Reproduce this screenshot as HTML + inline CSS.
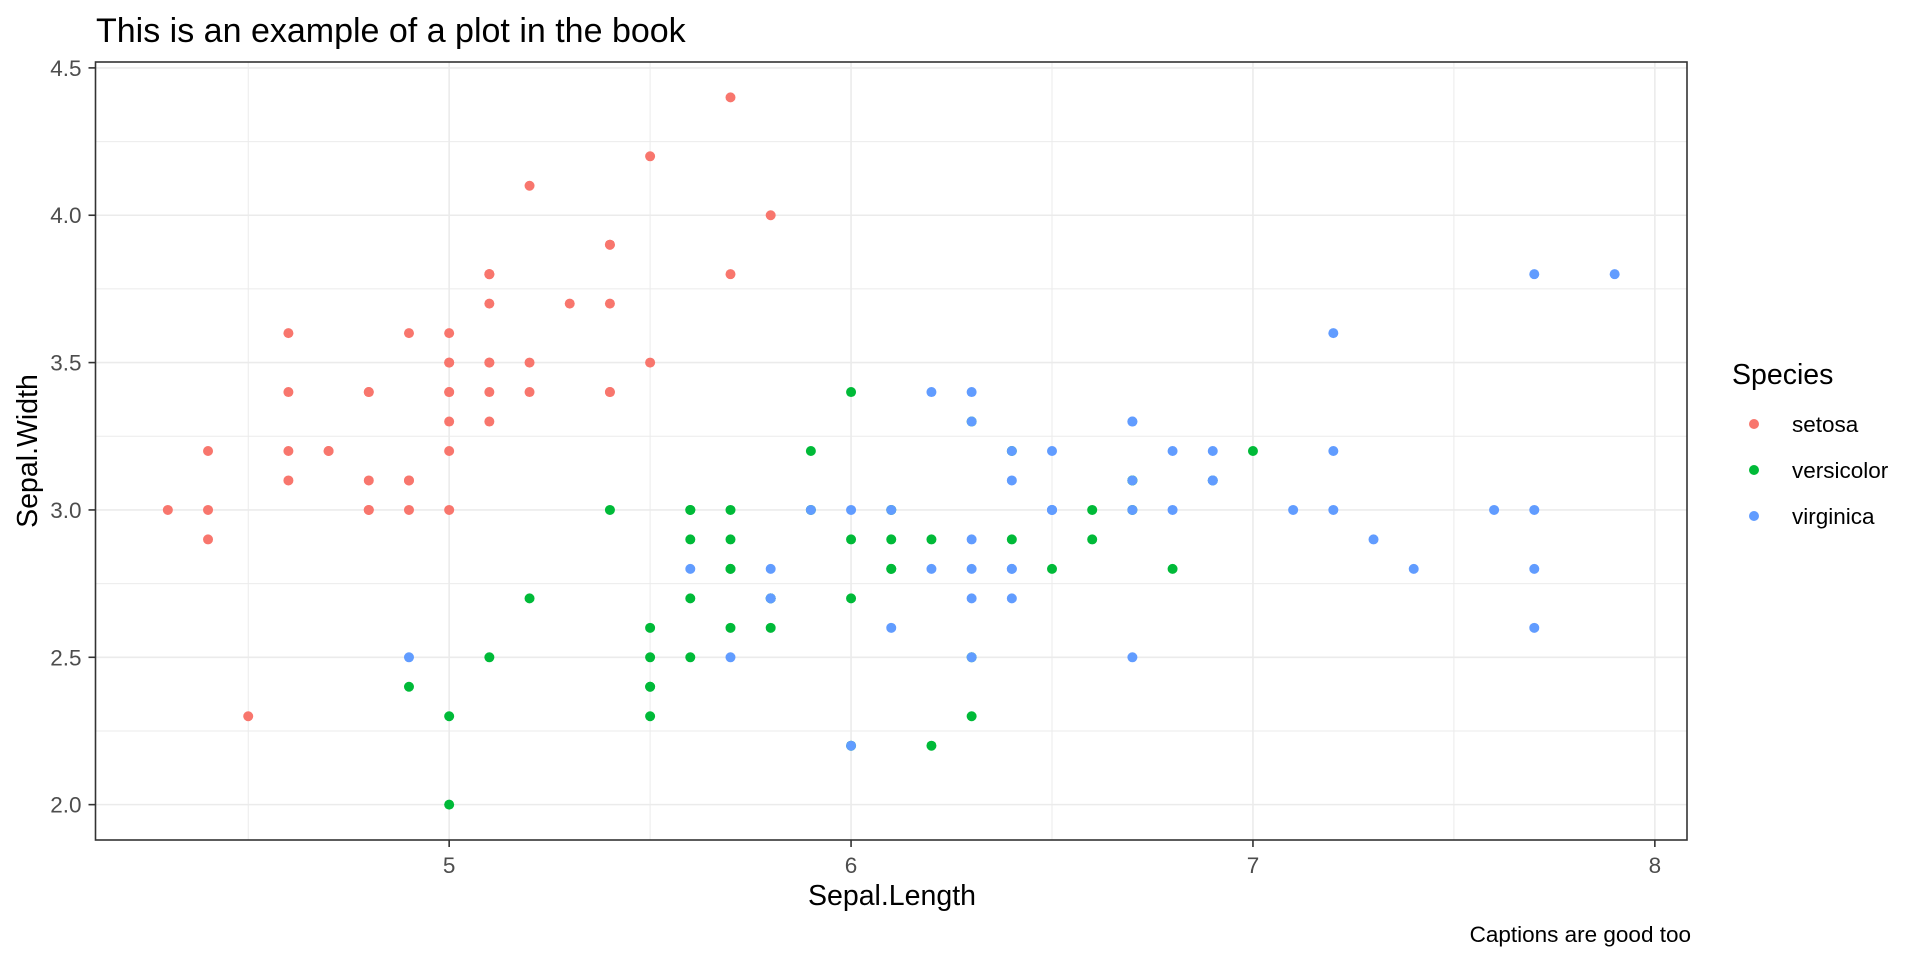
<!DOCTYPE html>
<html><head><meta charset="utf-8">
<style>
html,body{margin:0;padding:0;background:#fff;}
svg{display:block;font-family:"Liberation Sans",Arial,sans-serif;}
</style></head>
<body>
<svg id="chart" width="1920" height="960" viewBox="0 0 1920 960">
<g id="grid"></g>
<g id="points"></g>
<g id="axes"></g>
<text x="96" y="42" font-size="34" fill="#000">This is an example of a plot in the book</text>
<text x="892" y="905" font-size="28.5" fill="#000" text-anchor="middle">Sepal.Length</text>
<text transform="translate(37,451) rotate(-90)" font-size="28.5" fill="#000" text-anchor="middle">Sepal.Width</text>
<text x="1691" y="942" font-size="22.5" fill="#000" text-anchor="end">Captions are good too</text>
<g id="legend">
<text x="1732" y="384" font-size="28.5" fill="#000">Species</text>
</g>
</svg>
<script>
const species = ["setosa","versicolor","virginica"];
const colors = ["#F8766D","#00BA38","#619CFF"];
const xTicks = [5,6,7,8];
const yTicks = [2.0,2.5,3.0,3.5,4.0,4.5];
const xTickLabels = ["5","6","7","8"];
const yTickLabels = ["2.0","2.5","3.0","3.5","4.0","4.5"];
const setosaLength = [5.1,4.9,4.7,4.6,5.0,5.4,4.6,5.0,4.4,4.9,5.4,4.8,4.8,4.3,5.8,5.7,5.4,5.1,5.7,5.1,5.4,5.1,4.6,5.1,4.8,5.0,5.0,5.2,5.2,4.7,4.8,5.4,5.2,5.5,4.9,5.0,5.5,4.9,4.4,5.1,5.0,4.5,4.4,5.0,5.1,4.8,5.1,4.6,5.3,5.0];
const setosaWidth = [3.5,3.0,3.2,3.1,3.6,3.9,3.4,3.4,2.9,3.1,3.7,3.4,3.0,3.0,4.0,4.4,3.9,3.5,3.8,3.8,3.4,3.7,3.6,3.3,3.4,3.0,3.4,3.5,3.4,3.2,3.1,3.4,4.1,4.2,3.1,3.2,3.5,3.6,3.0,3.4,3.5,2.3,3.2,3.5,3.8,3.0,3.8,3.2,3.7,3.3];
const versicolorLength = [7.0,6.4,6.9,5.5,6.5,5.7,6.3,4.9,6.6,5.2,5.0,5.9,6.0,6.1,5.6,6.7,5.6,5.8,6.2,5.6,5.9,6.1,6.3,6.1,6.4,6.6,6.8,6.7,6.0,5.7,5.5,5.5,5.8,6.0,5.4,6.0,6.7,6.3,5.6,5.5,5.5,6.1,5.8,5.0,5.6,5.7,5.7,6.2,5.1,5.7];
const versicolorWidth = [3.2,3.2,3.1,2.3,2.8,2.8,3.3,2.4,2.9,2.7,2.0,3.0,2.2,2.9,2.9,3.1,3.0,2.7,2.2,2.5,3.2,2.8,2.5,2.8,2.9,3.0,2.8,3.0,2.9,2.6,2.4,2.4,2.7,2.7,3.0,3.4,3.1,2.3,3.0,2.5,2.6,3.0,2.6,2.3,2.7,3.0,2.9,2.9,2.5,2.8];
const virginicaLength = [6.3,5.8,7.1,6.3,6.5,7.6,4.9,7.3,6.7,7.2,6.5,6.4,6.8,5.7,5.8,6.4,6.5,7.7,7.7,6.0,6.9,5.6,7.7,6.3,6.7,7.2,6.2,6.1,6.4,7.2,7.4,7.9,6.4,6.3,6.1,7.7,6.3,6.4,6.0,6.9,6.7,6.9,5.8,6.8,6.7,6.7,6.3,6.5,6.2,5.9];
const virginicaWidth = [3.3,2.7,3.0,2.9,3.0,3.0,2.5,2.9,2.5,3.6,3.2,2.7,3.0,2.5,2.8,3.2,3.0,3.8,2.6,2.2,3.2,2.8,2.8,2.7,3.3,3.2,2.8,3.0,2.8,3.0,2.8,3.8,2.8,2.8,2.6,3.0,3.4,3.1,3.0,3.1,3.1,3.1,2.7,3.2,3.3,3.0,2.5,3.0,3.4,3.0];

const NS = "http://www.w3.org/2000/svg";
const PL = 95.5, PR = 1687, PT = 62, PB = 840;
const allX = setosaLength.concat(versicolorLength, virginicaLength);
const allY = setosaWidth.concat(versicolorWidth, virginicaWidth);
const xmin0 = Math.min(...allX), xmax0 = Math.max(...allX);
const ymin0 = Math.min(...allY), ymax0 = Math.max(...allY);
const xpad = (xmax0 - xmin0) * 0.05, ypad = (ymax0 - ymin0) * 0.05;
const xmin = xmin0 - xpad, xmax = xmax0 + xpad, ymin = ymin0 - ypad, ymax = ymax0 + ypad;
function sx(v){ return PL + (v - xmin) / (xmax - xmin) * (PR - PL); }
function sy(v){ return PB - (v - ymin) / (ymax - ymin) * (PB - PT); }
function mk(tag, attrs, parent){ const e = document.createElementNS(NS, tag); for (const k in attrs) e.setAttribute(k, attrs[k]); parent.appendChild(e); return e; }

const grid = document.getElementById('grid');
mk('rect', {x:PL, y:PT, width:PR-PL, height:PB-PT, fill:'#fff'}, grid);
for (let i = 0; i < xTicks.length; i++) {
  const prev = i === 0 ? xTicks[0] - (xTicks[1]-xTicks[0]) : xTicks[i-1];
  const m = (prev + xTicks[i]) / 2;
  if (m > xmin && m < xmax) { const l = mk('line', {x1:sx(m), x2:sx(m), y1:PT, y2:PB, stroke:'#EBEBEB', 'stroke-width':1}, grid);
  
   }
}
for (let i = 0; i < yTicks.length; i++) {
  const prev = i === 0 ? yTicks[0] - (yTicks[1]-yTicks[0]) : yTicks[i-1];
  const m = (prev + yTicks[i]) / 2;
  if (m > ymin && m < ymax) { const l = mk('line', {x1:PL, x2:PR, y1:sy(m), y2:sy(m), stroke:'#EBEBEB', 'stroke-width':1}, grid);
  
   }
}
const axes = document.getElementById('axes');
xTicks.forEach((t, i) => {
  const l = mk('line', {x1:sx(t), x2:sx(t), y1:PT, y2:PB, stroke:'#EBEBEB', 'stroke-width':1.6}, grid);
  
  
  const tk = mk('line', {x1:sx(t), x2:sx(t), y1:PB, y2:PB+7, stroke:'#333', 'stroke-width':1.6}, axes);
  
  
  const tx = mk('text', {x:sx(t), y:PB+33, 'font-size':22.5, fill:'#4D4D4D', 'text-anchor':'middle'}, axes);
  tx.textContent = xTickLabels[i];
  
  
});
yTicks.forEach((t, i) => {
  const l = mk('line', {x1:PL, x2:PR, y1:sy(t), y2:sy(t), stroke:'#EBEBEB', 'stroke-width':1.6}, grid);
  
  
  const tk = mk('line', {x1:PL-7, x2:PL, y1:sy(t), y2:sy(t), stroke:'#333', 'stroke-width':1.6}, axes);
  
  
  const tx = mk('text', {x:PL-14, y:sy(t)+8, 'font-size':22.5, fill:'#4D4D4D', 'text-anchor':'end'}, axes);
  tx.textContent = yTickLabels[i];
  
  
});
const border = mk('rect', {x:PL, y:PT, width:PR-PL, height:PB-PT, fill:'none', stroke:'#333', 'stroke-width':1.6}, axes);



const pts = document.getElementById('points');
const series = [[setosaLength, setosaWidth],[versicolorLength, versicolorWidth],[virginicaLength, virginicaWidth]];
series.forEach((s, si) => {
  s[0].forEach((xv, j) => {
    const c = mk('circle', {cx:sx(xv), cy:sy(s[1][j]), r:5, fill:colors[si]}, pts);
    
    
  });
});

const legend = document.getElementById('legend');
species.forEach((sp, i) => {
  const c = mk('circle', {cx:1754, cy:424 + i*46, r:5, fill:colors[i]}, legend);
  
  
  const t = mk('text', {x:1792, y:432 + i*46, 'font-size':22.5, fill:'#000'}, legend);
  t.textContent = sp;
  
  
});
</script>
</body></html>
